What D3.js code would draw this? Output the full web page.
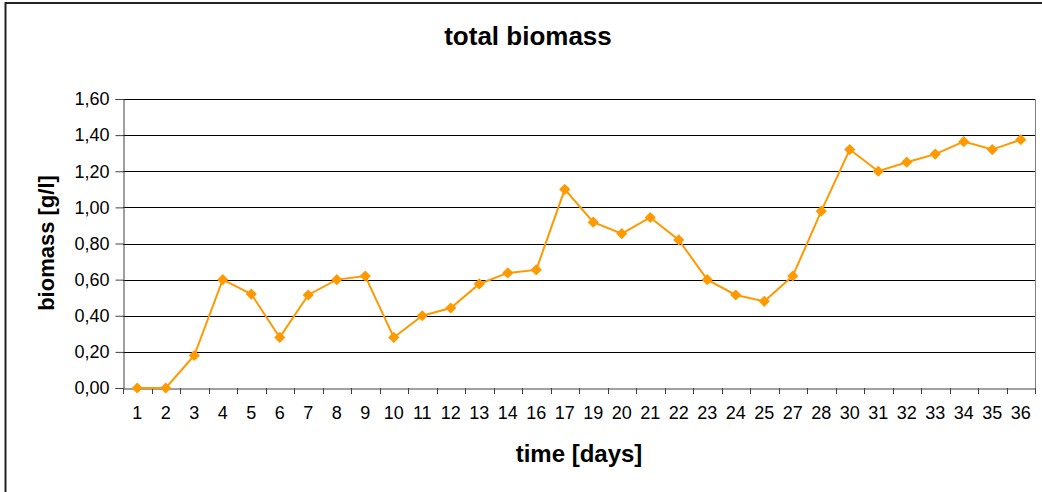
<!DOCTYPE html>
<html><head><meta charset="utf-8">
<script src="https://cdn.jsdelivr.net/npm/d3@7"></script>
<style>body{margin:0;background:#fff}svg{display:block;font-family:"Liberation Sans",Arial,sans-serif}</style>
</head><body><svg id="c" width="1042" height="492"></svg>
<script>
const categories = ["1","2","3","4","5","6","7","8","9","10","11","12","13","14","16","17","19","20","21","22","23","24","25","27","28","30","31","32","33","34","35","36"];
const biomass = [0,0,0.18,0.60,0.52,0.28,0.515,0.60,0.62,0.28,0.40,0.443,0.576,0.637,0.654,1.10,0.918,0.855,0.944,0.82,0.60,0.515,0.48,0.62,0.979,1.32,1.20,1.25,1.295,1.364,1.32,1.375];
const yTicks = [0,0.2,0.4,0.6,0.8,1.0,1.2,1.4,1.6];

const svg = d3.select("#c");
const L=123, R=1035, T=99, B=388;
// outer frame
svg.append("rect").attr("x",5.5).attr("y",3).attr("width",1100).attr("height",600)
  .attr("fill","none").attr("stroke","#222").attr("stroke-width",2);

const x = d3.scaleBand().domain(categories).range([L,R]);
const y = d3.scaleLinear().domain([0,1.6]).range([B,T]);

// gridlines
svg.append("g").selectAll("line").data(yTicks.filter(d=>d>0)).join("line")
  .attr("x1",L).attr("x2",R).attr("y1",d=>Math.round(y(d))+0.5).attr("y2",d=>Math.round(y(d))+0.5)
  .attr("stroke","#000").attr("stroke-width",1);
// right border
svg.append("line").attr("x1",R+0.5).attr("x2",R+0.5).attr("y1",T).attr("y2",B)
  .attr("stroke","#808080").attr("stroke-width",1);

const fmt = d => d.toFixed(2).replace(".",",");
const yAxis = svg.append("g").attr("transform",`translate(${L+0.5},0)`)
  .call(d3.axisLeft(y).tickValues(yTicks).tickFormat(fmt).tickSize(8).tickPadding(6));
const xAxis = svg.append("g").attr("transform",`translate(0,${B+0.5})`)
  .call(d3.axisBottom(x).tickSize(0).tickPadding(18));
[yAxis,xAxis].forEach(a=>{a.attr("font-size",18).attr("font-family","Liberation Sans, Arial, sans-serif");
  a.selectAll("text").attr("fill","#000");
  a.select(".domain").attr("stroke","#404040");a.selectAll(".tick line").attr("stroke","#404040");});
// x ticks between categories
const bounds = categories.map(c=>x(c)).concat([R]);
svg.append("g").selectAll("line").data(bounds).join("line")
  .attr("x1",d=>Math.round(d)+0.5).attr("x2",d=>Math.round(d)+0.5).attr("y1",B).attr("y2",B+6)
  .attr("stroke","#404040");

const cx = c => x(c)+x.bandwidth()/2;
const line = d3.line().x((d,i)=>cx(categories[i])).y(d=>y(d));
svg.append("path").datum(biomass).attr("d",line).attr("fill","none").attr("stroke","#FF9900").attr("stroke-width",2);
svg.append("g").selectAll("path").data(biomass).join("path")
  .attr("transform",(d,i)=>`translate(${cx(categories[i])},${y(d)})`)
  .attr("d",d3.symbol(d3.symbolDiamond2,80)).attr("fill","#FF9900");

svg.append("text").attr("x",528).attr("y",45).attr("text-anchor","middle").attr("font-size",26).attr("font-weight","bold").text("total biomass");
svg.append("text").attr("x",579).attr("y",462).attr("text-anchor","middle").attr("font-size",24).attr("font-weight","bold").text("time [days]");
svg.append("text").attr("transform","translate(54,243) rotate(-90)").attr("text-anchor","middle").attr("font-size",22).attr("font-weight","bold").text("biomass [g/l]");
</script></body></html>
